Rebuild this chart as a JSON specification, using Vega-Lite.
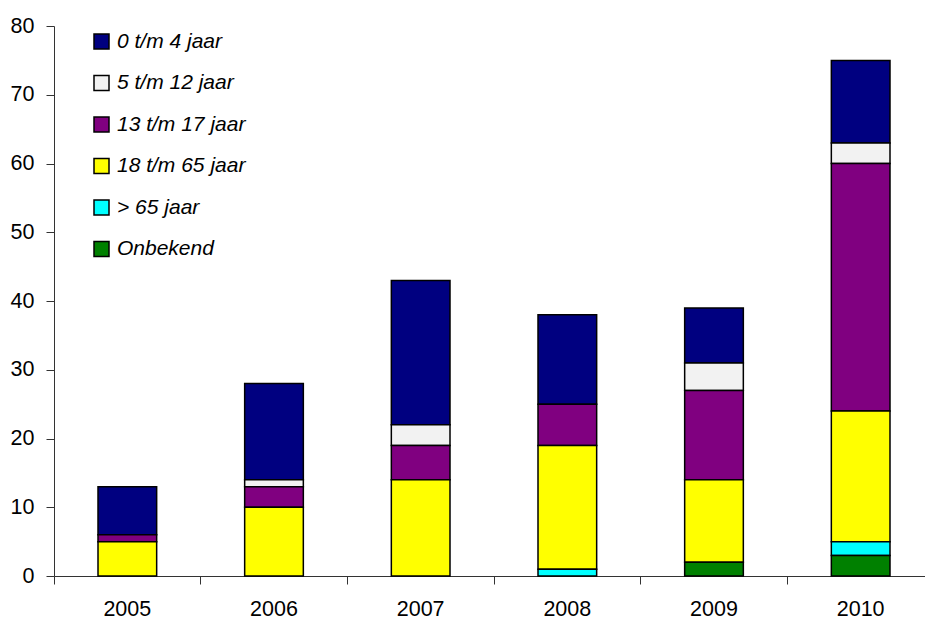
{
  "$schema": "https://vega.github.io/schema/vega-lite/v6.json",
  "width": 871,
  "height": 550,
  "autosize": {"type": "none"},
  "padding": {"left": 54, "top": 26, "right": 0, "bottom": 47},
  "background": "white",
  "data": {
    "values": [
      {"jaar": "2005", "groep": "0 t/m 4 jaar", "rang": 1, "aantal": 7},
      {"jaar": "2005", "groep": "5 t/m 12 jaar", "rang": 2, "aantal": 0},
      {"jaar": "2005", "groep": "13 t/m 17 jaar", "rang": 3, "aantal": 1},
      {"jaar": "2005", "groep": "18 t/m 65 jaar", "rang": 4, "aantal": 5},
      {"jaar": "2005", "groep": "> 65 jaar", "rang": 5, "aantal": 0},
      {"jaar": "2005", "groep": "Onbekend", "rang": 6, "aantal": 0},
      {"jaar": "2006", "groep": "0 t/m 4 jaar", "rang": 1, "aantal": 14},
      {"jaar": "2006", "groep": "5 t/m 12 jaar", "rang": 2, "aantal": 1},
      {"jaar": "2006", "groep": "13 t/m 17 jaar", "rang": 3, "aantal": 3},
      {"jaar": "2006", "groep": "18 t/m 65 jaar", "rang": 4, "aantal": 10},
      {"jaar": "2006", "groep": "> 65 jaar", "rang": 5, "aantal": 0},
      {"jaar": "2006", "groep": "Onbekend", "rang": 6, "aantal": 0},
      {"jaar": "2007", "groep": "0 t/m 4 jaar", "rang": 1, "aantal": 21},
      {"jaar": "2007", "groep": "5 t/m 12 jaar", "rang": 2, "aantal": 3},
      {"jaar": "2007", "groep": "13 t/m 17 jaar", "rang": 3, "aantal": 5},
      {"jaar": "2007", "groep": "18 t/m 65 jaar", "rang": 4, "aantal": 14},
      {"jaar": "2007", "groep": "> 65 jaar", "rang": 5, "aantal": 0},
      {"jaar": "2007", "groep": "Onbekend", "rang": 6, "aantal": 0},
      {"jaar": "2008", "groep": "0 t/m 4 jaar", "rang": 1, "aantal": 13},
      {"jaar": "2008", "groep": "5 t/m 12 jaar", "rang": 2, "aantal": 0},
      {"jaar": "2008", "groep": "13 t/m 17 jaar", "rang": 3, "aantal": 6},
      {"jaar": "2008", "groep": "18 t/m 65 jaar", "rang": 4, "aantal": 18},
      {"jaar": "2008", "groep": "> 65 jaar", "rang": 5, "aantal": 1},
      {"jaar": "2008", "groep": "Onbekend", "rang": 6, "aantal": 0},
      {"jaar": "2009", "groep": "0 t/m 4 jaar", "rang": 1, "aantal": 8},
      {"jaar": "2009", "groep": "5 t/m 12 jaar", "rang": 2, "aantal": 4},
      {"jaar": "2009", "groep": "13 t/m 17 jaar", "rang": 3, "aantal": 13},
      {"jaar": "2009", "groep": "18 t/m 65 jaar", "rang": 4, "aantal": 12},
      {"jaar": "2009", "groep": "> 65 jaar", "rang": 5, "aantal": 0},
      {"jaar": "2009", "groep": "Onbekend", "rang": 6, "aantal": 2},
      {"jaar": "2010", "groep": "0 t/m 4 jaar", "rang": 1, "aantal": 12},
      {"jaar": "2010", "groep": "5 t/m 12 jaar", "rang": 2, "aantal": 3},
      {"jaar": "2010", "groep": "13 t/m 17 jaar", "rang": 3, "aantal": 36},
      {"jaar": "2010", "groep": "18 t/m 65 jaar", "rang": 4, "aantal": 19},
      {"jaar": "2010", "groep": "> 65 jaar", "rang": 5, "aantal": 2},
      {"jaar": "2010", "groep": "Onbekend", "rang": 6, "aantal": 3}
    ]
  },
  "transform": [{"filter": "datum.aantal > 0"}],
  "layer": [
    {
      "mark": {"type": "bar", "opacity": 0},
      "encoding": {
        "x": {
          "field": "jaar",
          "type": "nominal",
          "scale": {"paddingInner": 0.6, "paddingOuter": 0.3, "range": [0, 880]},
          "axis": {
            "title": null,
            "orient": "bottom",
            "labels": false,
            "bandPosition": -0.75,
            "tickSize": 8,
            "tickColor": "#333",
            "domainColor": "#333",
            "tickWidth": 1,
            "domainWidth": 1
          }
        }
      }
    },
    {
      "mark": {"type": "bar", "stroke": "black", "strokeWidth": 1.5},
      "encoding": {
        "x": {
          "field": "jaar",
          "type": "nominal",
          "axis": {
            "title": null,
            "orient": "bottom",
            "labelAngle": 0,
            "labelFont": "Liberation Sans",
            "labelFontSize": 21.5,
            "labelColor": "black",
            "labelPadding": 22,
            "ticks": false,
            "domain": false
          }
        },
        "y": {
          "field": "aantal",
          "type": "quantitative",
          "stack": "zero",
          "scale": {"domain": [0, 80], "nice": false},
          "axis": {
            "title": null,
            "values": [0, 10, 20, 30, 40, 50, 60, 70, 80],
            "grid": false,
            "labelFont": "Liberation Sans",
            "labelFontSize": 21.5,
            "labelColor": "black",
            "labelPadding": 12,
            "tickSize": 8,
            "tickColor": "#333",
            "domainColor": "#333",
            "tickWidth": 1,
            "domainWidth": 1
          }
        },
        "color": {
          "field": "groep",
          "type": "nominal",
          "scale": {
            "domain": ["0 t/m 4 jaar", "5 t/m 12 jaar", "13 t/m 17 jaar", "18 t/m 65 jaar", "> 65 jaar", "Onbekend"],
            "range": ["#000080", "#f2f2f2", "#800080", "#ffff00", "#00ffff", "#008000"]
          },
          "legend": {
            "title": null,
            "orient": "none",
            "legendX": 37,
            "legendY": 5,
            "symbolType": "square",
            "symbolSize": 225,
            "symbolStrokeColor": "black",
            "symbolStrokeWidth": 1.5,
            "symbolOpacity": 1,
            "labelFont": "Liberation Sans",
            "labelFontStyle": "italic",
            "labelFontSize": 21,
            "labelColor": "black",
            "labelOffset": 5,
            "rowPadding": 19.5,
            "labelLimit": 300
          }
        },
        "order": {"field": "rang", "sort": "descending"}
      }
    }
  ],
  "resolve": {"axis": {"x": "independent"}},
  "config": {"view": {"stroke": null}}
}
